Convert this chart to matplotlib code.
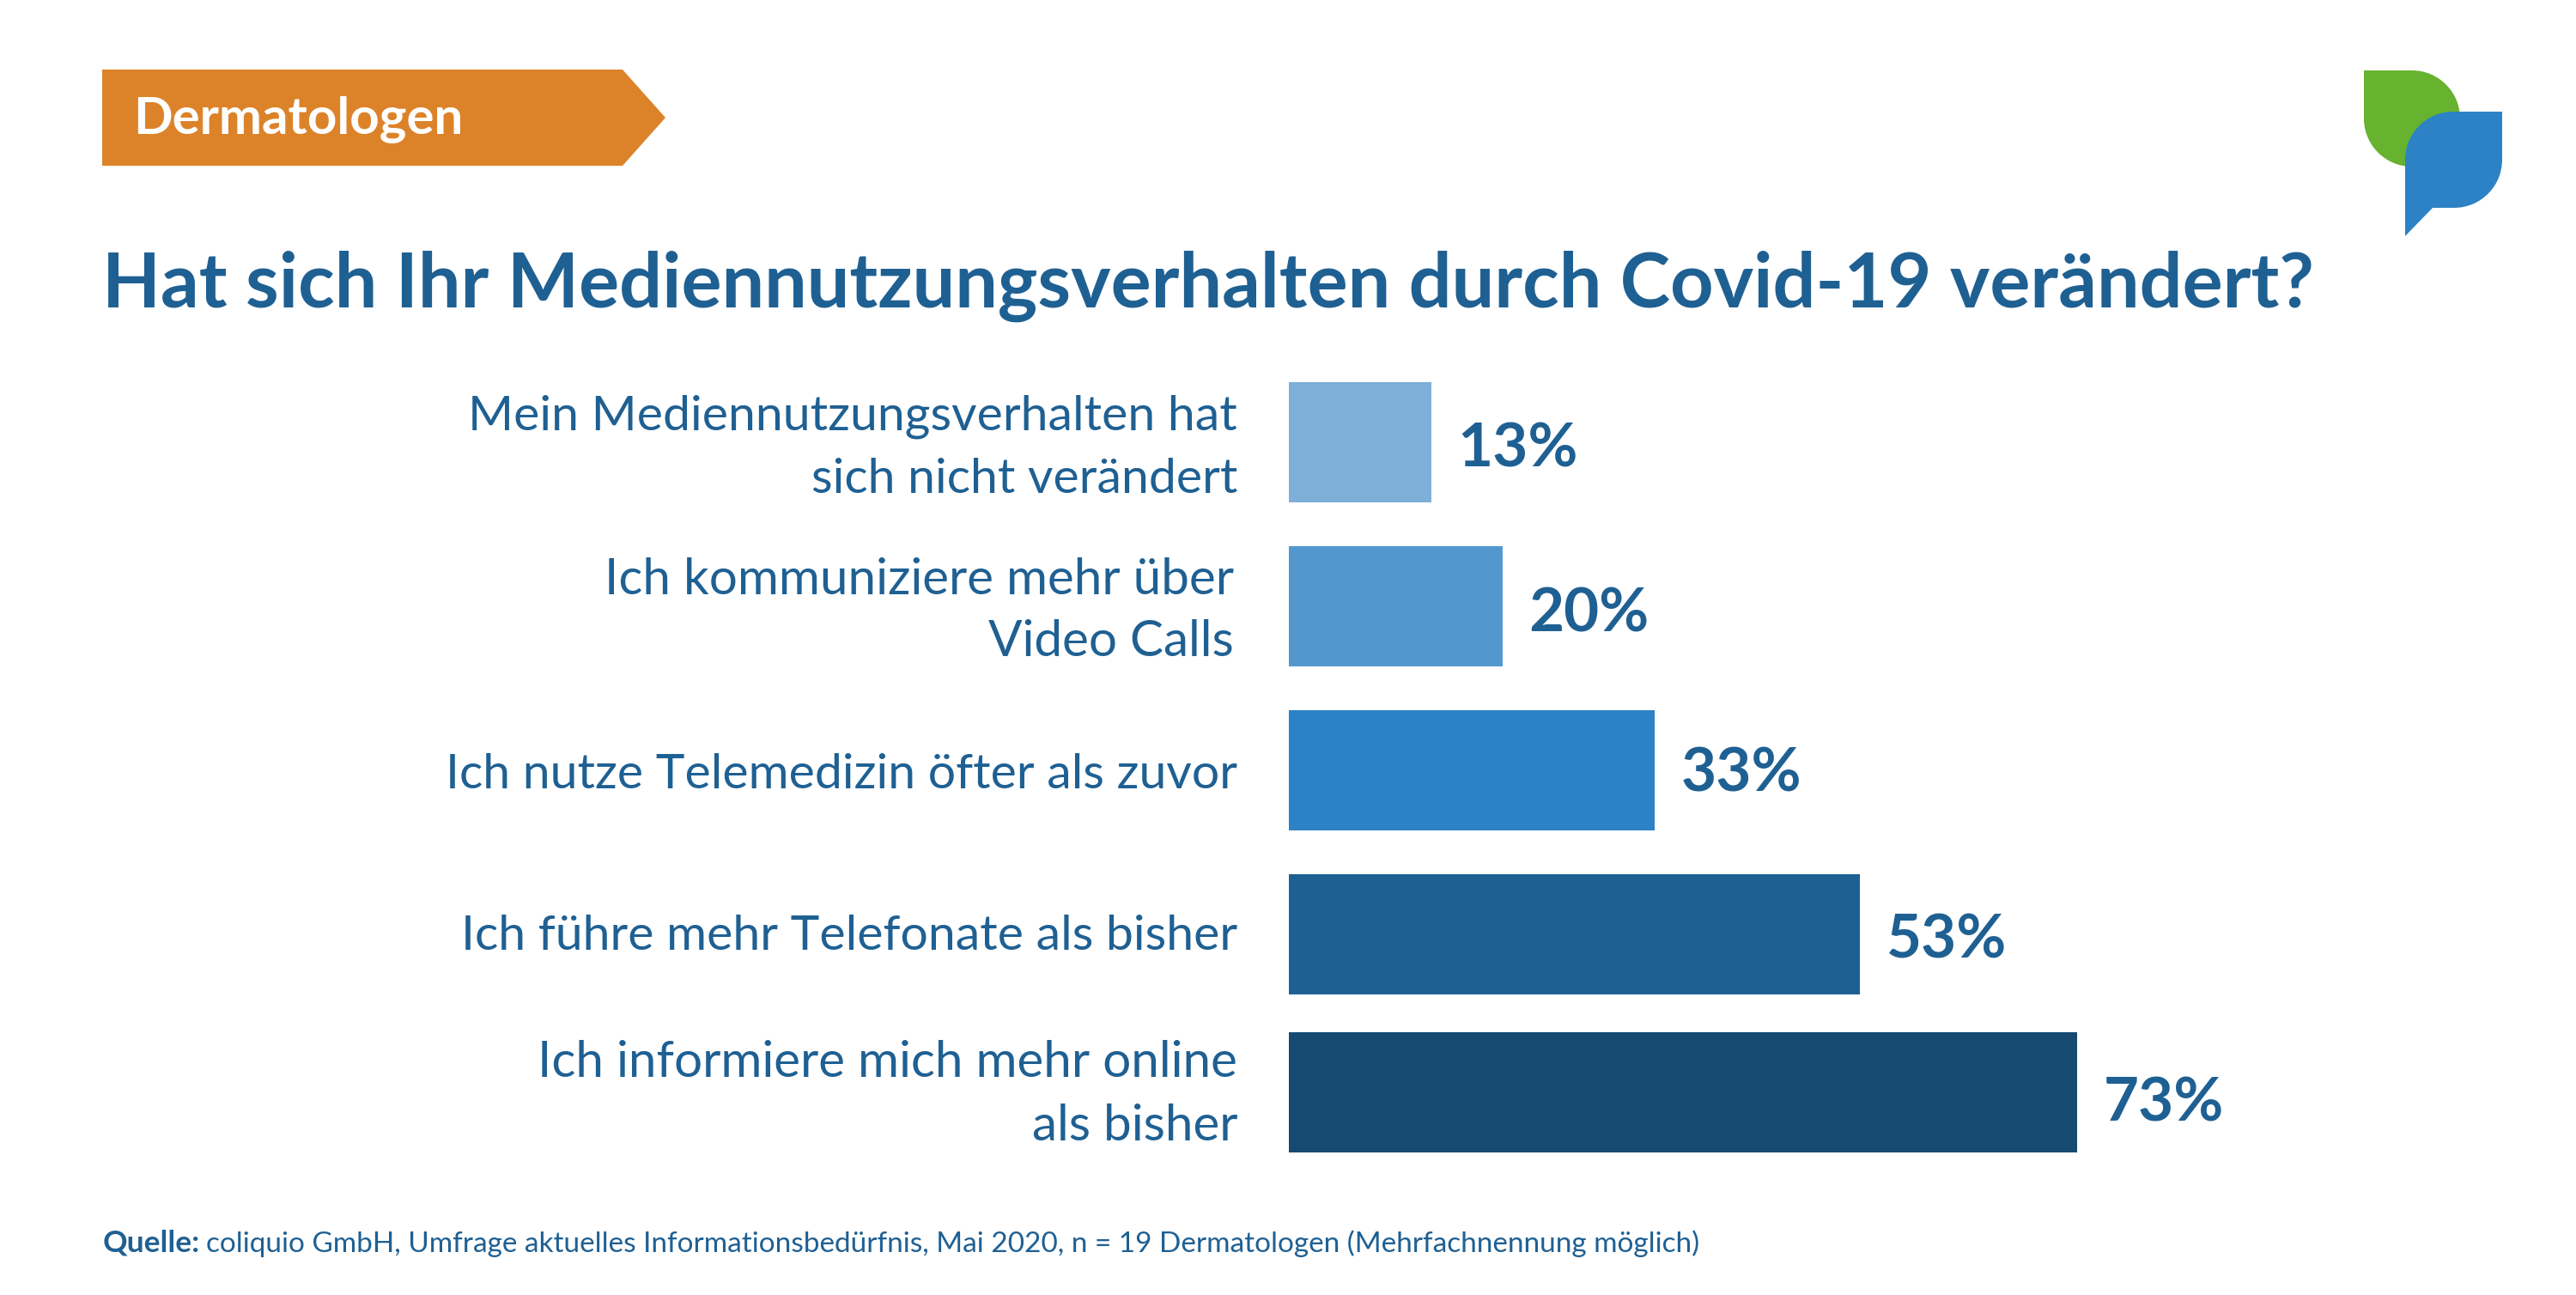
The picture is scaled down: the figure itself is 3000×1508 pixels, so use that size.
import matplotlib
matplotlib.use("Agg")
import matplotlib.pyplot as plt
from matplotlib.patches import PathPatch, Polygon
from matplotlib.path import Path

# ---- data ----
labels = [
    "Mein Mediennutzungsverhalten hat\nsich nicht verändert",
    "Ich kommuniziere mehr über\nVideo Calls",
    "Ich nutze Telemedizin öfter als zuvor",
    "Ich führe mehr Telefonate als bisher",
    "Ich informiere mich mehr online\nals bisher",
]
value_labels = ["13%", "20%", "33%", "53%", "73%"]
bar_lengths = [13.2, 19.8, 33.9, 52.95, 73.05]
badge_text = "Dermatologen"
title_text = "Hat sich Ihr Mediennutzungsverhalten durch Covid-19 verändert?"
source_bold = "Quelle:"
source_text = "coliquio GmbH, Umfrage aktuelles Informationsbedürfnis, Mai 2020, n = 19 Dermatologen (Mehrfachnennung möglich)"

# ---- style ----
W, H = 3000, 1508
FONT = "Lato"
TEXT = "#1F6093"
ORANGE = "#DC832A"
GREEN = "#67B22F"
BLUE = "#2C82C5"
bar_colors = ["#7DAFD8", "#5298CE", "#2C82C5", "#1F6093", "#164A70"]
bar_tops = [445, 636, 827, 1018, 1202]
bar_height = 140
label_lines_y = [[485, 558], [675, 748], [903], [1091], [1238, 1311]]
label_right = [1441, 1437, 1441, 1441, 1441]
label_sizes = [41.1, 42.0, 41.1, 41.1, 42.0]
value_baselines = [544, 735, 922, 1116, 1306]
PX_PER_PCT = 12.56
BAR_X0 = 1501

plt.rcParams["font.family"] = [FONT, "DejaVu Sans"]
fig = plt.figure(figsize=(W / 100, H / 100), dpi=100, facecolor="white")

# page layer in pixel coordinates
page = fig.add_axes([0, 0, 1, 1])
page.set_xlim(0, W)
page.set_ylim(H, 0)
page.axis("off")

# chart axes: x in percent, y in page pixels
ax = fig.add_axes([BAR_X0 / W, 0, 1 - BAR_X0 / W, 1])
ax.set_xlim(0, (W - BAR_X0) / PX_PER_PCT)
ax.set_ylim(H, 0)
ax.axis("off")
ax.patch.set_alpha(0)

ax.barh(bar_tops, bar_lengths, height=bar_height, align="edge", color=bar_colors, linewidth=0)


def fit(t, width):
    r = fig.canvas.get_renderer()
    w = t.get_window_extent(r).width
    t.set_fontsize(t.get_fontsize() * width / w)


# category labels
for lab, ys, xr, fs in zip(labels, label_lines_y, label_right, label_sizes):
    for line, y in zip(lab.split("\n"), ys):
        page.text(xr, y, line, ha="right", va="center", color=TEXT, fontsize=fs)

# value labels
for v, length, base in zip(value_labels, bar_lengths, value_baselines):
    ax.annotate(v, xy=(length, base), xytext=(31, 0), textcoords=("offset pixels"),
                ha="left", va="baseline", color=TEXT, fontsize=51, fontweight="bold",
                annotation_clip=False)

# badge
page.add_patch(Polygon([(119, 81), (725, 81), (775, 137), (725, 193), (119, 193)],
                       closed=True, facecolor=ORANGE, edgecolor="none"))
page.text(155, 134, badge_text, ha="left", va="center_baseline", color="white",
          fontsize=43.2, fontweight="bold")

# title
t = page.text(119, 358, title_text, ha="left", va="baseline", color=TEXT,
              fontsize=60, fontweight="bold")
fit(t, 2576)

# source
b = page.text(120, 1458, source_bold, ha="left", va="baseline", color=TEXT,
              fontsize=25.5, fontweight="bold")
r = fig.canvas.get_renderer()
bx = b.get_window_extent(r).x1
s = page.text(bx + 7, 1458, source_text, ha="left", va="baseline", color=TEXT, fontsize=25.5)
fit(s, 1980 - bx - 7)


# logo
def leaf(x0, y0, x1, y1, rad, color, tail=None, sharp="tl"):
    k = 0.5523 * rad
    if sharp == "tl":
        v = [(x0, y0), (x1 - rad, y0), (x1 - rad + k, y0), (x1, y0 + rad - k), (x1, y0 + rad),
             (x1, y1), (x1, y1),
             (x0 + rad, y1), (x0 + rad - k, y1), (x0, y1 - rad + k), (x0, y1 - rad), (x0, y0), (x0, y0)]
        c = [Path.MOVETO, Path.LINETO, Path.CURVE4, Path.CURVE4, Path.CURVE4,
             Path.LINETO, Path.LINETO,
             Path.LINETO, Path.CURVE4, Path.CURVE4, Path.CURVE4, Path.LINETO, Path.CLOSEPOLY]
    else:
        v = [(x0 + rad, y0), (x1, y0), (x1, y1 - rad), (x1, y1 - rad + k), (x1 - rad + k, y1),
             (x1 - rad, y1), (tail[0], y1), (x0, tail[1]), (x0, y0 + rad),
             (x0, y0 + rad - k), (x0 + rad - k, y0), (x0 + rad, y0), (x0 + rad, y0)]
        c = [Path.MOVETO, Path.LINETO, Path.LINETO, Path.CURVE4, Path.CURVE4,
             Path.CURVE4, Path.LINETO, Path.LINETO, Path.LINETO,
             Path.CURVE4, Path.CURVE4, Path.CURVE4, Path.CLOSEPOLY]
    page.add_patch(PathPatch(Path(v, c), facecolor=color, edgecolor="none"))


leaf(2753, 82, 2865, 194, 56, GREEN, sharp="tl")
leaf(2801, 130, 2914, 242, 56, BLUE, tail=(2833, 275), sharp="tr")

fig.savefig("out.png", dpi=100, facecolor="white")
